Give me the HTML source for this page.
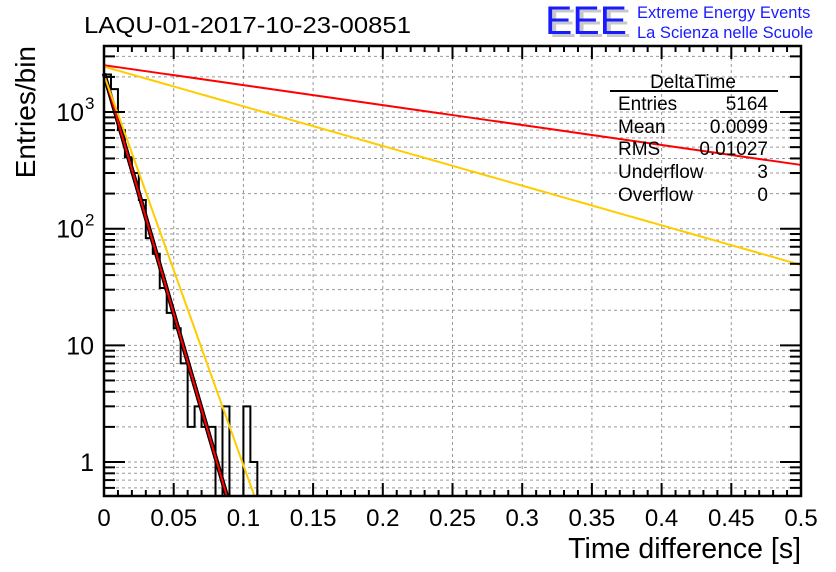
<!DOCTYPE html>
<html><head><meta charset="utf-8"><style>
body{margin:0;background:#fff;}
svg{display:block;font-family:"Liberation Sans",sans-serif;}
</style></head><body>
<svg id="chart" width="836" height="572" viewBox="0 0 836 572">
<text x="84" y="33" font-size="23" textLength="327" lengthAdjust="spacingAndGlyphs">LAQU-01-2017-10-23-00851</text>
<g>
<text x="549" y="37" font-size="40" fill="#c8c8c8" textLength="82" lengthAdjust="spacingAndGlyphs">EEE</text>
<text x="545" y="34" font-size="40" fill="#1a1aff" textLength="82" lengthAdjust="spacingAndGlyphs">EEE</text>
<text x="637" y="18" font-size="16.5" fill="#1a1aff">Extreme Energy Events</text>
<text x="637" y="38" font-size="16.5" fill="#1a1aff">La Scienza nelle Scuole</text>
</g>
<text transform="translate(35,46) rotate(-90)" text-anchor="end" font-size="28">Entries/bin</text>
<text x="801" y="558" text-anchor="end" font-size="28.5">Time difference [s]</text>
<g id="grid"></g><g id="hist"></g><g id="fits"></g><g id="axes"></g>
<g font-size="19">
<text x="693" y="88" text-anchor="middle">DeltaTime</text>
<line x1="610" y1="91" x2="778" y2="91" stroke="#000" stroke-width="2"/>
<text x="618" y="110">Entries</text><text x="768" y="110" text-anchor="end">5164</text>
<text x="618" y="133">Mean</text><text x="768" y="133" text-anchor="end">0.0099</text>
<text x="618" y="155">RMS</text><text x="768" y="155" text-anchor="end">0.01027</text>
<text x="618" y="178">Underflow</text><text x="768" y="178" text-anchor="end">3</text>
<text x="618" y="201">Overflow</text><text x="768" y="201" text-anchor="end">0</text>
</g>
</svg>
<script>
const binWidth = 0.005;
const counts = [2100,1570,700,410,300,176,83,61,31,19,14,7,2,3,2,2,0,3,0,0,3,1];
const fitNames = ['fit-red-fast','fit-yellow-fast','fit-red-slow','fit-yellow-slow'];
const fitAmp = [2140,2080,2520,2450];
const fitTau = [0.01056,0.01298,0.254,0.1277];
const fitColor = ['#ff0000','#ffcc00','#ff0000','#ffcc00'];
const xTicks = ['0','0.05','0.1','0.15','0.2','0.25','0.3','0.35','0.4','0.45','0.5'];
const X0=104,X1=801,Y0=496,Y1=46, XMAX=0.5, LMIN=-0.2914, LMAX=3.566;
const sx=v=>X0+(X1-X0)*v/XMAX;
const sy=v=>Y0-(Y0-Y1)*(Math.log10(v)-LMIN)/(LMAX-LMIN);
const NS='http://www.w3.org/2000/svg';
function mk(p,t,a){const e=document.createElementNS(NS,t);for(const k in a)e.setAttribute(k,a[k]);p.appendChild(e);return e;}
const grid=document.getElementById('grid'),axes=document.getElementById('axes'),hist=document.getElementById('hist'),fits=document.getElementById('fits');
for(let i=0;i<=50;i++){const v=i*0.01,x=sx(v);const maj=i%5===0;
 const L=maj?13:6;
 mk(axes,'line',{x1:x,y1:Y0,x2:x,y2:Y0-L,stroke:'#000','stroke-width':2});
 mk(axes,'line',{x1:x,y1:Y1,x2:x,y2:Y1+L,stroke:'#000','stroke-width':2});
 if(maj&&i>0&&i<50){const g=mk(grid,'line',{x1:x,y1:Y1,x2:x,y2:Y0,stroke:'#999','stroke-width':1,'stroke-dasharray':'3,3'});
  
  }
}
xTicks.forEach((t,i)=>{const e=mk(axes,'text',{x:sx(i*0.05),y:526,'text-anchor':'middle','font-size':24});e.textContent=t;
 
 });
for(let d=-1;d<=3;d++){for(let m=1;m<=9;m++){const v=m*Math.pow(10,d);const l=Math.log10(v);if(l<LMIN||l>LMAX)continue;
 const y=sy(v),maj=m===1,L=maj?21:11;
 mk(axes,'line',{x1:X0,y1:y,x2:X0+L,y2:y,stroke:'#000','stroke-width':2});
 mk(axes,'line',{x1:X1,y1:y,x2:X1-L,y2:y,stroke:'#000','stroke-width':2});
 const g=mk(grid,'line',{x1:X0,y1:y,x2:X1,y2:y,stroke:'#999','stroke-width':1,'stroke-dasharray':'3,3'});
 
 
}}
[[1,'1',''],[10,'10',''],[100,'10','2'],[1000,'10','3']].forEach(([v,b,e])=>{
 const t=mk(axes,'text',{x:e?84:94,y:sy(v)+9,'text-anchor':'end','font-size':25});t.textContent=b;
 
 
 if(e){const s=mk(axes,'text',{x:85,y:sy(v)-3,'font-size':17});s.textContent=e;}
});
mk(axes,'rect',{x:X0,y:Y1,width:X1-X0,height:Y0-Y1,fill:'none',stroke:'#000','stroke-width':2.5});
let d='M'+X0+','+Y0;
counts.forEach((c,i)=>{const y=c>0?Math.max(sy(c),Y1):Y0;d+=' L'+sx(i*binWidth)+','+y+' L'+sx((i+1)*binWidth)+','+y;});
d+=' L'+sx(counts.length*binWidth)+','+Y0;
const h=mk(hist,'path',{d:d,fill:'none',stroke:'#000','stroke-width':2});


function fitPath(k){let p='';for(let i=0;i<=400;i++){const t=XMAX*i/400;const v=fitAmp[k]*Math.exp(-t/fitTau[k]);if(Math.log10(v)<LMIN){const tb=-fitTau[k]*Math.log(Math.pow(10,LMIN)/fitAmp[k]);p+=' L'+sx(tb)+','+Y0;break;}p+=(i?' L':'M')+sx(t)+','+sy(v);}return p;}
const bl=mk(fits,'path',{d:fitPath(0),fill:'none',stroke:'#000','stroke-width':4.5});


fitNames.forEach((n,k)=>{const p=mk(fits,'path',{d:fitPath(k),fill:'none',stroke:fitColor[k],'stroke-width':2});
 
 });
</script>
</body></html>
